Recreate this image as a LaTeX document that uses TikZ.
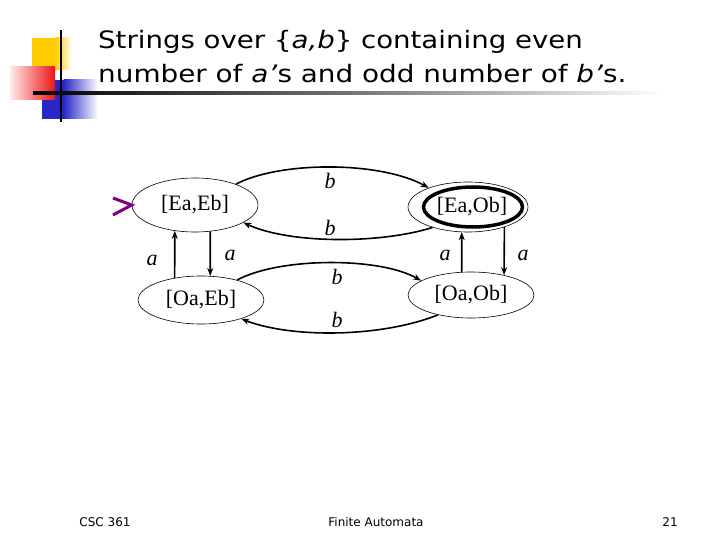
\documentclass[tikz,border=0pt]{standalone}
\usepackage{fontspec}
\setmainfont{Liberation Serif}
\setsansfont{DejaVu Sans}
\usetikzlibrary{shapes.geometric,arrows.meta}
\definecolor{startpurple}{RGB}{128,0,128}
\definecolor{sqyellow}{RGB}{255,204,0}
\definecolor{sqred}{RGB}{240,20,20}
\definecolor{sqblue}{RGB}{40,40,200}
\begin{document}
\begin{tikzpicture}[x=1pt,y=-1pt,
  state/.style={ellipse,draw,line width=0.6pt,inner sep=0pt,font=\fontsize{22}{22}\selectfont},
  trans/.style={line width=1.6pt,-{Stealth[length=8pt,width=6pt]}},
  lab/.style={font=\fontsize{22}{22}\selectfont\itshape,inner sep=0pt},
  foot/.style={font=\sffamily\fontsize{12}{12}\selectfont},
  title/.style={font=\sffamily\fontsize{24}{24}\selectfont,anchor=base west,inner sep=0pt}]
\useasboundingbox (0,0) rectangle (720,540);
% decoration
\fill[sqyellow] (32,38) rectangle (56,70);
\shade[left color=sqyellow,right color=white] (55.5,38) rectangle (72,70);
\fill[sqblue] (42,80) rectangle (64,119);
\shade[left color=sqblue,right color=white] (63.5,80) rectangle (98,119);
\shade[left color=red!8,right color=sqred] (10,67) rectangle (55,100);
\draw[line width=2pt] (61,30) -- (61,122);
\shade[left color=black,right color=white,middle color=black!55] (33,92) rectangle (665,95);
% title
\node[title] (t1) at (98,49) {\scalebox{1.15}[1]{Strings over \{\textit{a,b}\} containing even}};
\node[title] (t2) at (98,83) {\scalebox{1.16}[1]{number of \textit{a'}s and odd number of \textit{b'}s.}};
% states
\node[state,minimum width=126,minimum height=54] (s1) at (195,205) {[Ea,Eb]};
\node[state,minimum width=126,minimum height=48] (s2) at (201,300) {[Oa,Eb]};
\node[state,minimum width=120,minimum height=50] (s3) at (468,207) {};
\node[ellipse,draw,line width=3.5pt,minimum width=99,minimum height=40,inner sep=0pt] (s3in) at (473,207) {};
\node[font=\fontsize{22}{22}\selectfont] (s3t) at (472,207) {[Ea,Ob]};
\node[state,minimum width=126,minimum height=46] (s4) at (471,295) {[Oa,Ob]};
% start marker
\coordinate (st1) at (113,198);
\coordinate (st2) at (113,215);
\draw[startpurple,line width=3pt,line join=miter] (st1) -- (s1.west) -- (st2);
% a transitions
\draw[trans] (s2.140) -- (s1.232);
\draw[trans] (s1.300) -- (s2.69);
\draw[trans] (s4.112) -- (s3.256);
\draw[trans] (s3.331) -- (s4.31);
% b transitions
\draw[trans] (s1.27) .. controls (280,161) and (380,161) .. (s3.154);
\draw[trans] (s3.210) .. controls (380,244) and (290,244) .. (s1.-20);
\draw[trans] (s2.29) .. controls (280,257) and (380,257) .. (s4.164);
\draw[trans] (s4.211) .. controls (380,338) and (290,338) .. (s2.-25);
% labels
\node[lab] (la1) at (152,260) {a};
\node[lab] (la2) at (230,255) {a};
\node[lab] (la3) at (445,255) {a};
\node[lab] (la4) at (523,255) {a};
\node[lab] (lb1) at (330,181) {b};
\node[lab] (lb2) at (330,228) {b};
\node[lab] (lb3) at (337,277) {b};
\node[lab] (lb4) at (337,320) {b};
% footer
\node[foot] (f1) at (105,522) {CSC 361};
\node[foot] (f2) at (376,522) {Finite Automata};
\node[foot] (f3) at (670,522) {21};
\end{tikzpicture}
\end{document}
